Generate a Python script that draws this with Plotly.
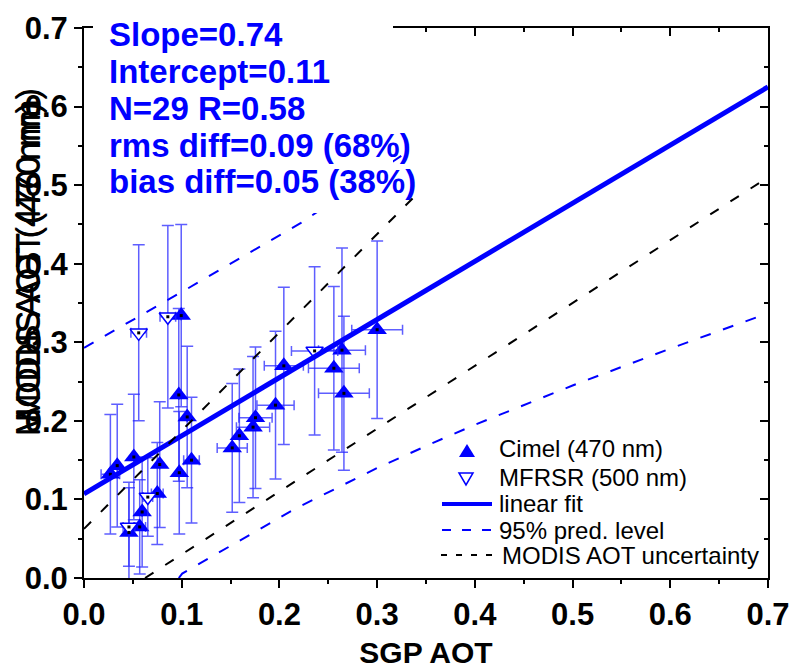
import plotly.graph_objects as go

# ---------------- data ----------------
cimel_x  = [0.027, 0.034, 0.051, 0.046, 0.057, 0.0595, 0.075, 0.0775, 0.0975, 0.097, 0.0995,
            0.1056, 0.110, 0.1517, 0.159, 0.173, 0.1755, 0.196, 0.2045, 0.2557, 0.264, 0.266, 0.300]
cimel_y  = [0.132, 0.143, 0.154, 0.058, 0.065, 0.084, 0.1075, 0.1444, 0.134, 0.233, 0.334,
            0.205, 0.150, 0.1656, 0.181, 0.192, 0.204, 0.220, 0.270, 0.267, 0.290, 0.235, 0.316]
cimel_ex = [0.0095, 0.0, 0.0, 0.0, 0.006, 0.0, 0.006, 0.0, 0.0, 0.0, 0.0,
            0.0, 0.008, 0.0154, 0.0, 0.017, 0.017, 0.019, 0.020, 0.026, 0.024, 0.026, 0.026]
cimel_ey = [0.076, 0.078, 0.080, 0.064, 0.060, 0.070, 0.065, 0.080, 0.078, 0.110, 0.116,
            0.090, 0.080, 0.082, 0.085, 0.090, 0.090, 0.094, 0.100, 0.104, 0.130, 0.098, 0.113]

mfrsr_x  = [0.056, 0.0653, 0.046, 0.0858, 0.236]
mfrsr_y  = [0.312, 0.103, 0.065, 0.3325, 0.289]
mfrsr_ex = [0.008, 0.005, 0.006, 0.008, 0.0237]
mfrsr_ey = [0.112, 0.050, 0.050, 0.116, 0.107]

fit_slope = 0.74
fit_intercept = 0.107
fit_x = [0.0, 0.7]

pred_up_x = [0.0, 0.1, 0.222, 0.334]
pred_up_y = [0.293, 0.364, 0.452, 0.545]
pred_lo_x = [0.097, 0.1005, 0.2165, 0.3, 0.359, 0.4, 0.5, 0.6, 0.7]
pred_lo_y = [0.0, 0.0056, 0.0884, 0.140, 0.173, 0.195, 0.245, 0.292, 0.337]

unc_up_x = [0.0, 0.345]
unc_up_y = [0.0625, 0.494]
unc_lo_x = [0.0625, 0.7]
unc_lo_y = [0.0, 0.51]

stats_lines = ["Slope=0.74", "Intercept=0.11", "N=29 R=0.58",
               "rms diff=0.09 (68%)", "bias diff=0.05 (38%)"]
legend_labels = ["Cimel (470 nm)", "MFRSR (500 nm)", "linear fit",
                 "95% pred. level", "MODIS AOT uncertainty"]
xtick_vals = [0.0, 0.1, 0.2, 0.3, 0.4, 0.5, 0.6, 0.7]
xtick_text = ["0.0", "0.1", "0.2", "0.3", "0.4", "0.5", "0.6", "0.7"]
ytick_vals = xtick_vals
ytick_text = xtick_text

BLUE = "rgb(0,0,255)"
EBAR = "rgba(40,40,255,0.75)"
FONT = "Liberation Sans, Arial, sans-serif"

W, H = 796, 669
ML, MR, MT, MB = 84, 28, 28, 91
PW, PH = W - ML - MR, H - MT - MB


def pxx(p):
    return (p - ML) / PW


def pxy(p):
    return (H - MB - p) / PH


fig = go.Figure()

fig.add_trace(go.Scatter(
    x=cimel_x, y=cimel_y, mode="markers", name=legend_labels[0],
    marker=dict(symbol="triangle-up", size=17, color=BLUE, line=dict(width=0)),
    error_x=dict(type="data", array=cimel_ex, color=EBAR, thickness=1.5, width=5),
    error_y=dict(type="data", array=cimel_ey, color=EBAR, thickness=1.5, width=6),
))
fig.add_trace(go.Scatter(
    x=mfrsr_x, y=mfrsr_y, mode="markers", name=legend_labels[1],
    marker=dict(symbol="triangle-down", size=15, color="white", line=dict(width=1.5, color=BLUE)),
    error_x=dict(type="data", array=mfrsr_ex, color=EBAR, thickness=1.5, width=5),
    error_y=dict(type="data", array=mfrsr_ey, color=EBAR, thickness=1.5, width=6),
))
fig.add_trace(go.Scatter(
    x=cimel_x + mfrsr_x, y=cimel_y + mfrsr_y, mode="markers",
    marker=dict(symbol="square", size=3, color="black"), hoverinfo="skip",
))
fig.add_trace(go.Scatter(
    x=fit_x, y=[fit_intercept + fit_slope * v for v in fit_x], mode="lines",
    name=legend_labels[2], line=dict(color=BLUE, width=5),
))
fig.add_trace(go.Scatter(
    x=pred_up_x, y=pred_up_y, mode="lines", name=legend_labels[3],
    line=dict(color=BLUE, width=2, dash="11px,13px"),
))
fig.add_trace(go.Scatter(
    x=pred_lo_x, y=pred_lo_y, mode="lines",
    line=dict(color=BLUE, width=2, dash="11px,13px"),
))
fig.add_trace(go.Scatter(
    x=unc_up_x, y=unc_up_y, mode="lines", name=legend_labels[4],
    line=dict(color="black", width=2, dash="10px,14px"),
))
fig.add_trace(go.Scatter(
    x=unc_lo_x, y=unc_lo_y, mode="lines",
    line=dict(color="black", width=2, dash="10px,14px"),
))
# invisible trace so the mirrored top/right axes are drawn
fig.add_trace(go.Scatter(x=[0.35], y=[0.35], xaxis="x2", yaxis="y2", mode="markers",
                         marker=dict(opacity=0), hoverinfo="skip"))

tickfont = dict(family=FONT, size=31, color="black", weight="bold")
axis_common = dict(range=[0, 0.7], showgrid=False, zeroline=False, automargin=False,
                   showline=True, linecolor="black", linewidth=2,
                   ticks="outside", ticklen=8, tickwidth=2, tickcolor="black",
                   minor=dict(dtick=0.05, ticks="outside", ticklen=4, tickwidth=2, tickcolor="black"))
mirror_common = dict(range=[0, 0.7], showgrid=False, zeroline=False, automargin=False,
                     showline=True, linecolor="black", linewidth=2, ticks="inside", ticklen=8,
                     tickwidth=2, tickcolor="black", showticklabels=False,
                     minor=dict(dtick=0.05, ticks="inside", ticklen=4, tickwidth=2, tickcolor="black"))

fig.update_layout(
    width=W, height=H,
    margin=dict(l=ML, r=MR, t=MT, b=MB),
    paper_bgcolor="white", plot_bgcolor="white",
    showlegend=False,
    xaxis=dict(**axis_common, tickvals=xtick_vals, ticktext=xtick_text, tickfont=tickfont,
               title=dict(text="SGP AOT", font=dict(family=FONT, size=30, color="black", weight="bold"),
                          standoff=16)),
    yaxis=dict(**axis_common, tickvals=ytick_vals, ticktext=ytick_text, tickfont=tickfont),
    xaxis2=dict(**mirror_common, overlaying="x", side="top", tickvals=xtick_vals),
    yaxis2=dict(**mirror_common, overlaying="y", side="right", tickvals=ytick_vals),
)

# white box behind the statistics text (hides the top frame there)
fig.add_shape(type="rect", xref="paper", yref="paper", layer="above",
              x0=pxx(93), x1=pxx(393), y0=pxy(213), y1=pxy(10),
              fillcolor="white", line=dict(width=0))

# y-axis title (drawn twice, slightly offset, as in the original)
for dy in (-7, 7):
    for dx in (0, 1):
        fig.add_annotation(text="MODIS AOT (470 nm)", xref="paper", yref="paper",
                           x=pxx(27), y=pxy(262), xanchor="center", yanchor="middle",
                           yshift=dy, xshift=dx, textangle=-90, showarrow=False,
                           font=dict(family=FONT, size=34, color="black"))

stat_px_y = [35, 72, 108, 145, 181]
for txt, yy in zip(stats_lines, stat_px_y):
    fig.add_annotation(text=txt, xref="paper", yref="paper", x=pxx(108), y=pxy(yy),
                       xanchor="left", yanchor="middle", showarrow=False, borderpad=0,
                       font=dict(family=FONT, size=33, color=BLUE, weight="bold"))

# ---------------- hand-made legend ----------------
leg_text_x = [498, 498, 498, 498, 501]
leg_text_y = [449, 477, 503, 530, 555]
for txt, lx, ly in zip(legend_labels, leg_text_x, leg_text_y):
    fig.add_annotation(text=txt, xref="paper", yref="paper", x=pxx(lx), y=pxy(ly),
                       xanchor="left", yanchor="middle", showarrow=False, borderpad=0,
                       font=dict(family=FONT, size=24, color="black"))

fig.add_shape(type="path", xref="paper", yref="paper", xsizemode="pixel", ysizemode="pixel",
              xanchor=pxx(467), yanchor=pxy(451), path="M -8,-6 L 8,-6 L 0,7 Z",
              fillcolor=BLUE, line=dict(width=0), layer="above")
fig.add_shape(type="path", xref="paper", yref="paper", xsizemode="pixel", ysizemode="pixel",
              xanchor=pxx(466), yanchor=pxy(479), path="M -7,6 L 7,6 L 0,-6 Z",
              fillcolor="white", line=dict(width=1.5, color=BLUE), layer="above")
fig.add_shape(type="line", xref="paper", yref="paper", x0=pxx(442), x1=pxx(492),
              y0=pxy(504), y1=pxy(504), line=dict(color=BLUE, width=4), layer="above")
fig.add_shape(type="line", xref="paper", yref="paper", x0=pxx(442), x1=pxx(491),
              y0=pxy(530), y1=pxy(530), line=dict(color=BLUE, width=2, dash="9px,11px"), layer="above")
fig.add_shape(type="line", xref="paper", yref="paper", x0=pxx(441), x1=pxx(492),
              y0=pxy(555), y1=pxy(555), line=dict(color="black", width=2, dash="6px,9px"), layer="above")

fig.write_html("out.html", config={"displayModeBar": False},
               post_script="document.body.style.margin='0px';")
